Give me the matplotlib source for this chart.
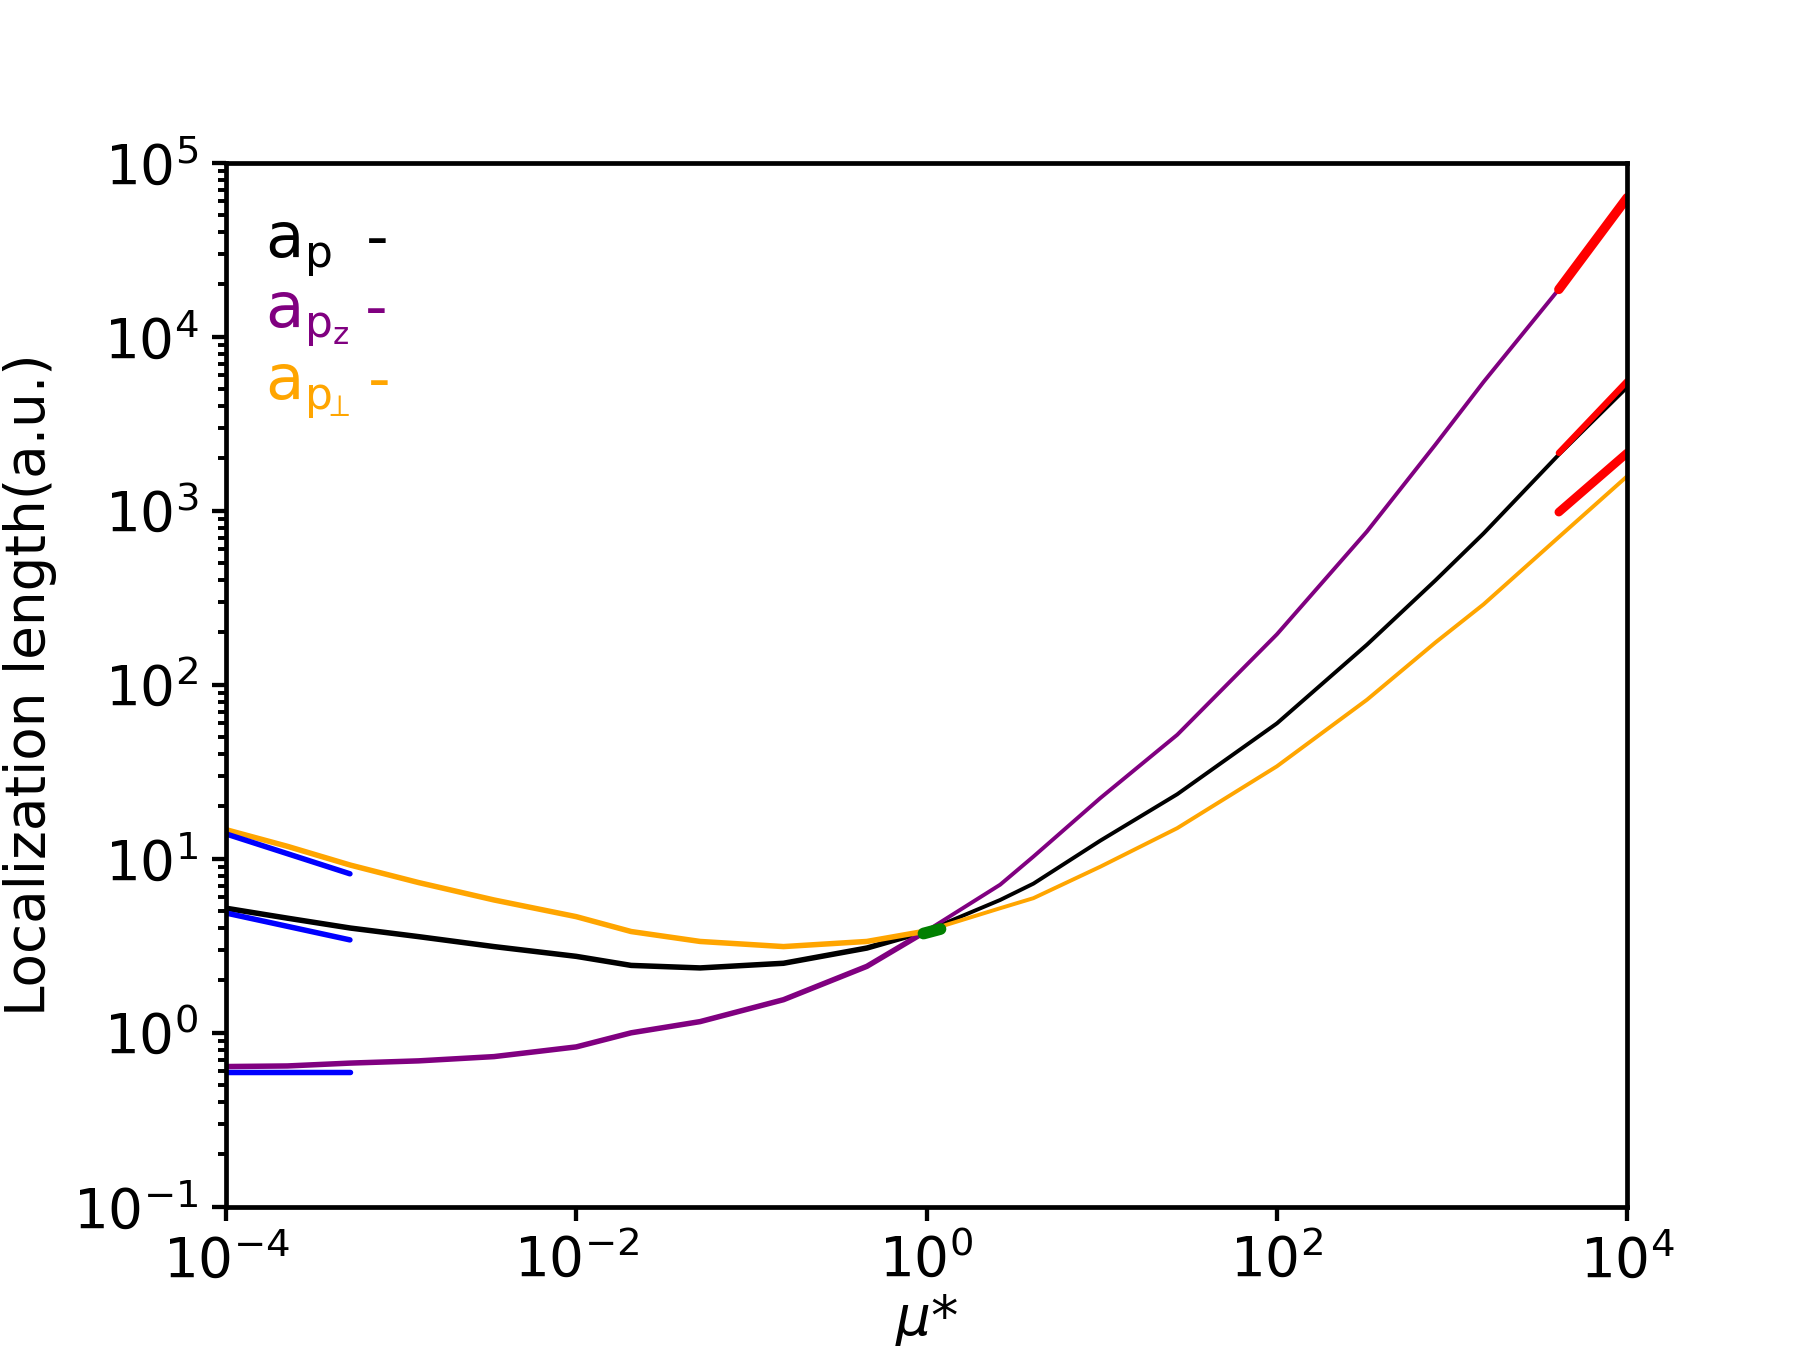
import numpy as np
import matplotlib
matplotlib.use("Agg")
import matplotlib.pyplot as plt
from matplotlib.ticker import NullLocator

# values: log10(mu*) and localization length (a.u.)
log_mu = [-4.0, -3.65, -3.29, -2.9, -2.47, -2.0, -1.687, -1.293, -0.817, -0.341, 0.0,
          0.42, 0.61, 0.991, 1.431, 2.0, 2.514, 2.905, 3.18, 3.609, 4.0]
mu = 10.0 ** np.array(log_mu)

a_p = [5.2, 4.56, 4.0, 3.57, 3.13, 2.75, 2.44, 2.36, 2.51, 3.07, 3.85,
       5.8, 7.2, 12.7, 23.5, 60.0, 170.0, 398.0, 741.0, 2100.0, 5130.0]
a_pz = [0.64, 0.645, 0.67, 0.69, 0.73, 0.83, 1.0, 1.16, 1.55, 2.41, 3.85,
        7.1, 10.3, 22.3, 51.6, 195.0, 760.0, 2400.0, 5500.0, 18700.0, 60000.0]
a_pperp = [14.7, 11.8, 9.2, 7.3, 5.8, 4.65, 3.82, 3.35, 3.13, 3.35, 3.85,
           5.2, 5.94, 9.0, 15.0, 34.0, 82.0, 175.0, 290.0, 705.0, 1580.0]

# small-mu asymptotes (blue)
mu_small = [1e-4, 5.1e-4]
small_p = [4.88, 3.42]
small_pz = [0.594, 0.594]
small_pperp = [13.9, 8.2]

# large-mu asymptotes (red)
mu_large = [4.07e3, 1e4]
large_p = [2150.0, 5560.0]
large_pz = [18700.0, 63000.0]
large_pperp = [982.0, 2150.0]

# isotropic point (green)
mu_iso = [0.96, 1.2]
iso = [3.72, 3.95]

labels = [r'$\mathrm{a_{p}}$', r'$\mathrm{a_{p_z}}$', r'$\mathrm{a_{p_{\!\!\perp}}}$']
colors = ['black', 'purple', 'orange']

fig, ax = plt.subplots(figsize=(6.4, 4.8), dpi=282.5)

# the low-mu part of each curve is drawn a little heavier, as in the original
split = 11
for ys, c in zip([a_p, a_pz, a_pperp], colors):
    ax.plot(mu[:split], ys[:split], color=c, lw=1.4, solid_capstyle='round')
    ax.plot(mu[split - 1:], ys[split - 1:], color=c, lw=1.0, solid_capstyle='round')

for s in (small_p, small_pz, small_pperp):
    ax.plot(mu_small, s, color='blue', lw=1.4, solid_capstyle='round')
ax.plot(mu_large, large_pz, color='red', lw=2.4, solid_capstyle='round')
ax.plot(mu_large, large_p, color='red', lw=1.6, solid_capstyle='round')
ax.plot(mu_large, large_pperp, color='red', lw=2.2, solid_capstyle='round')
ax.plot(mu_iso, iso, color='green', lw=3.0, solid_capstyle='round')

ax.set_xscale('log')
ax.set_yscale('log')
ax.set_xlim(1e-4, 1e4)
ax.set_ylim(1e-1, 1e5)
ax.set_xticks([1e-4, 1e-2, 1e0, 1e2, 1e4])
ax.xaxis.set_minor_locator(NullLocator())

ax.set_xlabel(r'$\mu$*', fontsize=14, labelpad=1)
ax.set_ylabel('Localization length(a.u.)', fontsize=14)
ax.tick_params(labelsize=14, width=1.1)
ax.tick_params(which='minor', width=1.0)
for sp in ax.spines.values():
    sp.set_linewidth(1.2)

# hand-made legend: label text followed by a short dash
rows_y = [0.909, 0.842, 0.773]
dash_x = [0.100, 0.099, 0.1015]
for lab, c, yy, dx in zip(labels, colors, rows_y, dash_x):
    ax.text(0.028, yy, lab, color=c, fontsize=16, transform=ax.transAxes,
            ha='left', va='baseline')
    ax.text(dx, yy, '-', color=c, fontsize=16, transform=ax.transAxes,
            ha='left', va='baseline')

plt.savefig('out.png')
